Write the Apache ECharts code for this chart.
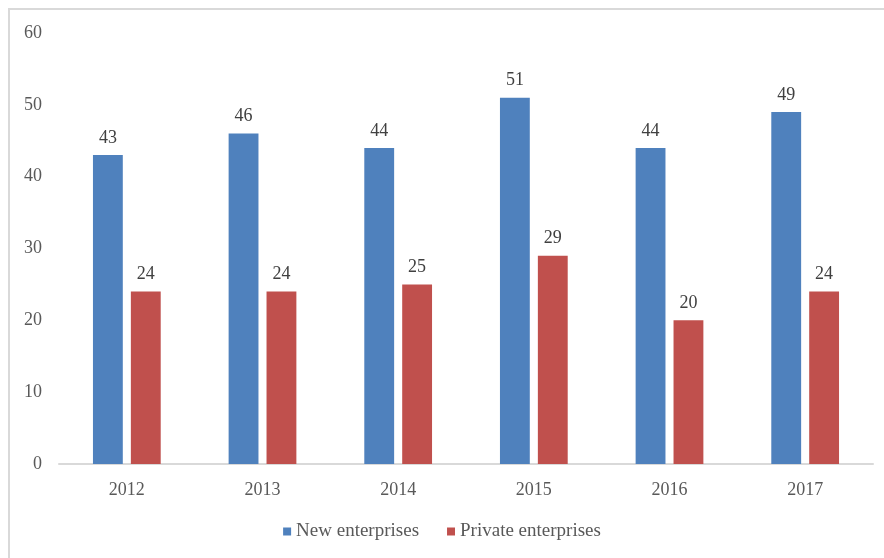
<!DOCTYPE html>
<html>
<head>
<meta charset="utf-8">
<script src="https://cdn.jsdelivr.net/npm/echarts@6/dist/echarts.min.js"></script>
<style>
  html, body { margin: 0; padding: 0; background: #fff; }
  #chart { width: 884px; height: 558px; }
</style>
</head>
<body>
<div id="chart"></div>
<script>
// data
var years = ["2012", "2013", "2014", "2015", "2016", "2017"];
var newEnterprises = [43, 46, 44, 51, 44, 49];
var privateEnterprises = [24, 24, 25, 29, 20, 24];
var yTicks = [0, 10, 20, 30, 40, 50, 60];

var chart = echarts.init(document.getElementById("chart"));
var font = "'Liberation Serif', 'Times New Roman', serif";

chart.setOption({
  animation: false,
  textStyle: { fontFamily: font },
  graphic: [
    {
      type: "rect",
      shape: { x: 9, y: 9, width: 900, height: 600 },
      style: { fill: "none", stroke: "#d9d9d9", lineWidth: 2 },
      silent: true
    }
  ],
  grid: { left: 59, right: 11, top: 33, bottom: 94 },
  legend: {
    bottom: 12,
    left: "center",
    itemWidth: 8,
    itemHeight: 8,
    itemGap: 28,
    icon: "rect",
    textStyle: { fontFamily: font, fontSize: 19, color: "#595959" },
    data: ["New enterprises", "Private enterprises"]
  },
  xAxis: {
    type: "category",
    data: years,
    axisLine: { lineStyle: { color: "#d9d9d9", width: 2 } },
    axisTick: { show: false },
    axisLabel: { fontFamily: font, fontSize: 18, color: "#595959", margin: 17 }
  },
  yAxis: {
    type: "value",
    min: yTicks[0],
    max: yTicks[yTicks.length - 1],
    interval: 10,
    splitLine: { show: false },
    axisLine: { show: false },
    axisTick: { show: false },
    axisLabel: { fontFamily: font, fontSize: 18, color: "#595959", margin: 17 }
  },
  series: [
    {
      name: "New enterprises",
      type: "bar",
      data: newEnterprises,
      barWidth: "22%",
      barGap: "27%",
      itemStyle: { color: "#4f81bd" },
      label: { show: true, position: "top", distance: 8, fontFamily: font, fontSize: 18, color: "#404040" }
    },
    {
      name: "Private enterprises",
      type: "bar",
      data: privateEnterprises,
      barWidth: "22%",
      itemStyle: { color: "#c0504d" },
      label: { show: true, position: "top", distance: 8, fontFamily: font, fontSize: 18, color: "#404040" }
    }
  ]
});
</script>
</body>
</html>
